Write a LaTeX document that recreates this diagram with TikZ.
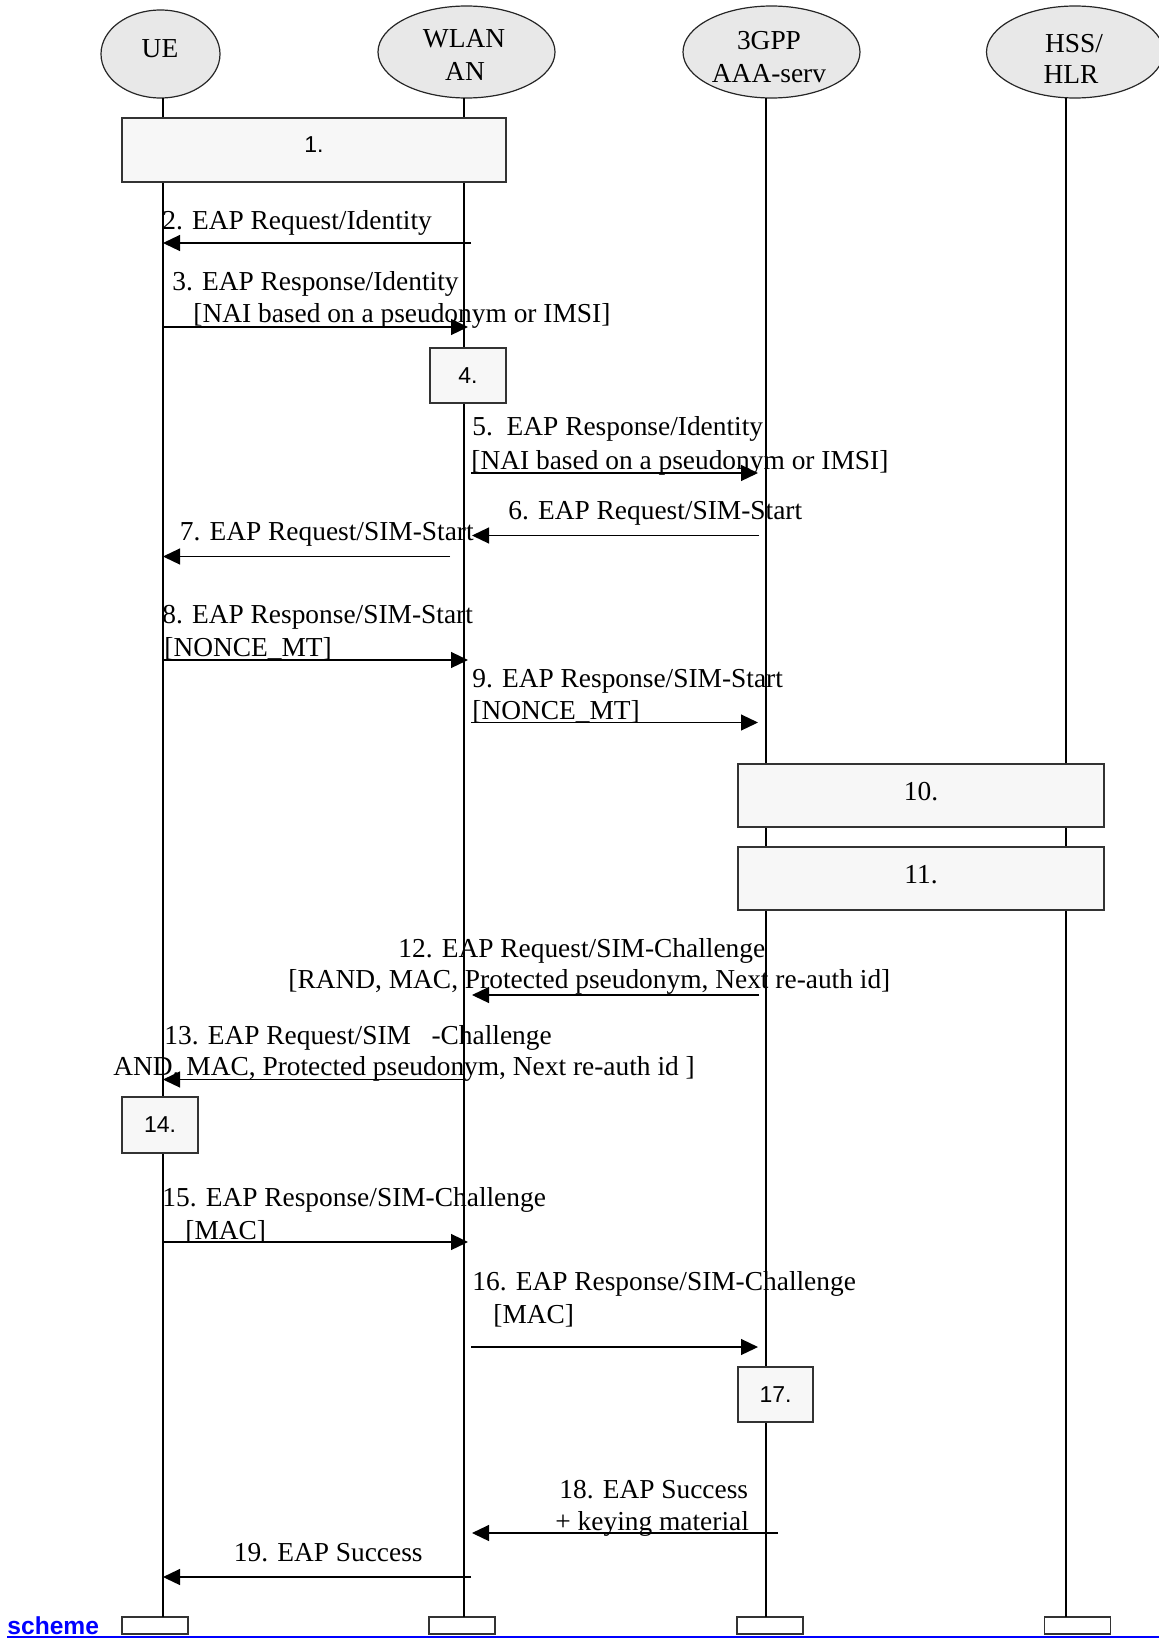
\documentclass[tikz,border=0pt]{standalone}
\usepackage{fontspec}
\setmainfont{Liberation Serif}
\setsansfont{Liberation Sans}
\usetikzlibrary{shapes.geometric,arrows.meta}
\definecolor{actorgray}{RGB}{232,232,232}
\definecolor{boxgray}{RGB}{247,247,247}
\definecolor{linkblue}{RGB}{0,0,255}
\newcommand{\msgfont}{\fontsize{13.7}{16}\selectfont}
\newcommand{\boxfont}{\sffamily\fontsize{11.5}{14}\selectfont}
\tikzset{
	actor/.style={ellipse, draw=black!85, fill=actorgray, line width=0.6pt, inner sep=0pt, minimum width=88.5pt, minimum height=46pt},
	lifeline/.style={line width=0.6pt, draw=black},
	procbox/.style={draw=black!80, fill=boxgray, line width=0.7pt, inner sep=0pt},
	endbox/.style={draw=black!80, fill=white, line width=0.7pt, inner sep=0pt, minimum width=33pt, minimum height=8.5pt},
	msg/.style={-{Triangle[length=8.5pt,width=8pt]}, line width=0.6pt},
	lbl/.style={anchor=base west, inner sep=0pt, font=\msgfont},
	actlbl/.style={anchor=base, inner sep=0pt, font=\msgfont},
}

\begin{document}
\begin{tikzpicture}[x=0.5pt, y=-0.5pt]
	\useasboundingbox (0,0) rectangle (1159,1638);
	% entities
	\node[actor, minimum width=59.5pt, minimum height=44pt] (ue) at (160.5,54) {};
	\node[actor] (wlan) at (466.5,52) {};
	\node[actor] (aaa) at (771.5,52) {};
	\node[actor] (hss) at (1075,52) {};
	\node[actlbl] (ueName) at (160,57) {UE};
	\node[actlbl] (wlanName) at (464,47) {WLAN};
	\node[actlbl] (wlanName2) at (465,80) {AN};
	\node[actlbl] (aaaName) at (769,49) {3GPP};
	\node[actlbl] (aaaName2) at (769,82) {AAA-serv};
	\node[actlbl] (hssName) at (1074,52) {HSS/};
	\node[actlbl] (hssName2) at (1071,83) {HLR};
	% end boxes
	\node[endbox] (ueEnd) at (155,1625.5) {};
	\node[endbox] (wlanEnd) at (462,1625.5) {};
	\node[endbox] (aaaEnd) at (770,1625.5) {};
	\node[endbox] (hssEnd) at (1077.5,1625.5) {};
	% lifelines
	\foreach \who/\x in {ue/163, wlan/464, aaa/766, hss/1066} {
		\coordinate (\who Top) at (\x,98);
		\coordinate (\who Bot) at (\x,1617);
		\draw[lifeline] (\who Top) -- (\who Bot);
	}
	% messages
	\foreach \n/\xa/\xb/\y in {2/471/163/243, 3/163/468/327, 5/471/758/473, 6/759/472/535.5,
		7/450/163/556.5, 8/163/468/660, 9/471/758/722.5, 12/759/472/995, 13/464/163/1079.5,
		15/163/468/1242, 16/471/758/1347, 18/778/472/1533, 19/471/163/1577} {
		\coordinate (m\n-s) at (\xa,\y);
		\coordinate (m\n-e) at (\xb,\y);
		\draw[msg] (m\n-s) -- (m\n-e);
	}
	% labels
	\node[lbl] (l2) at (162,229) {2. EAP Request/Identity};
	\node[lbl] (l3) at (172,290) {3. EAP Response/Identity};
	\node[lbl] (l3b) at (193,322) {[NAI based on a pseudonym or IMSI]};
	\node[lbl] (l5) at (472,435) {5.\ \ EAP Response/Identity};
	\node[lbl] (l5b) at (471,469) {[NAI based on a pseudonym or IMSI]};
	\node[lbl] (l6) at (508,519) {6. EAP Request/SIM-Start};
	\node[lbl] (l7) at (179.5,540) {7. EAP Request/SIM-Start};
	\node[lbl] (l8) at (162,623) {8. EAP Response/SIM-Start};
	\node[lbl] (l8b) at (164,656) {[NONCE\_MT]};
	\node[lbl] (l9) at (472,687) {9. EAP Response/SIM-Start};
	\node[lbl] (l9b) at (472,719) {[NONCE\_MT]};
	\node[lbl] (l12) at (398,957) {12. EAP Request/SIM-Challenge};
	\node[lbl] (l12b) at (288,988.5) {[RAND, MAC, Protected pseudonym, Next re-auth id]};
	\node[lbl] (l13) at (164,1044) {13. EAP Request/SIM\ \ \ -Challenge};
	\node[lbl] (l13b) at (113,1075) {AND, MAC, Protected pseudonym, Next re-auth id ]};
	\node[lbl] (l15) at (162,1206) {15. EAP Response/SIM-Challenge};
	\node[lbl] (l15b) at (185,1239) {[MAC]};
	\node[lbl] (l16) at (472,1290) {16. EAP Response/SIM-Challenge};
	\node[lbl] (l16b) at (493,1323.5) {[MAC]};
	\node[lbl] (l18) at (559,1498) {18. EAP Success};
	\node[lbl] (l18b) at (555,1530.5) {+ keying material};
	\node[lbl] (l19) at (233.5,1561) {19. EAP Success};
	% procedure boxes
	\node[procbox, minimum width=192pt, minimum height=32pt, font=\boxfont] (b1) at (314,150) {\raisebox{5pt}{1.}};
	\node[procbox, minimum width=38pt, minimum height=27.5pt, font=\boxfont] (b4) at (468,375.5) {4.};
	\node[procbox, minimum width=183pt, minimum height=31.5pt, font=\msgfont] (b10) at (921,795.5) {\raisebox{4pt}{10.}};
	\node[procbox, minimum width=183pt, minimum height=31.5pt, font=\msgfont] (b11) at (921,878.5) {\raisebox{4pt}{11.}};
	\node[procbox, minimum width=38pt, minimum height=28pt, font=\boxfont] (b14) at (160,1125) {14.};
	\node[procbox, minimum width=37.5pt, minimum height=27.5pt, font=\boxfont] (b17) at (775.5,1394.5) {17.};
	% footer
	\node[anchor=base west, inner sep=0pt, text=linkblue, font=\sffamily\bfseries\fontsize{12.3}{14}\selectfont] (scheme) at (7,1634) {scheme};
	\coordinate (linkL) at (7,1637);
	\coordinate (linkR) at (1159,1637);
	\draw[linkblue, line width=0.6pt] (linkL) -- (linkR);
\end{tikzpicture}
\end{document}
